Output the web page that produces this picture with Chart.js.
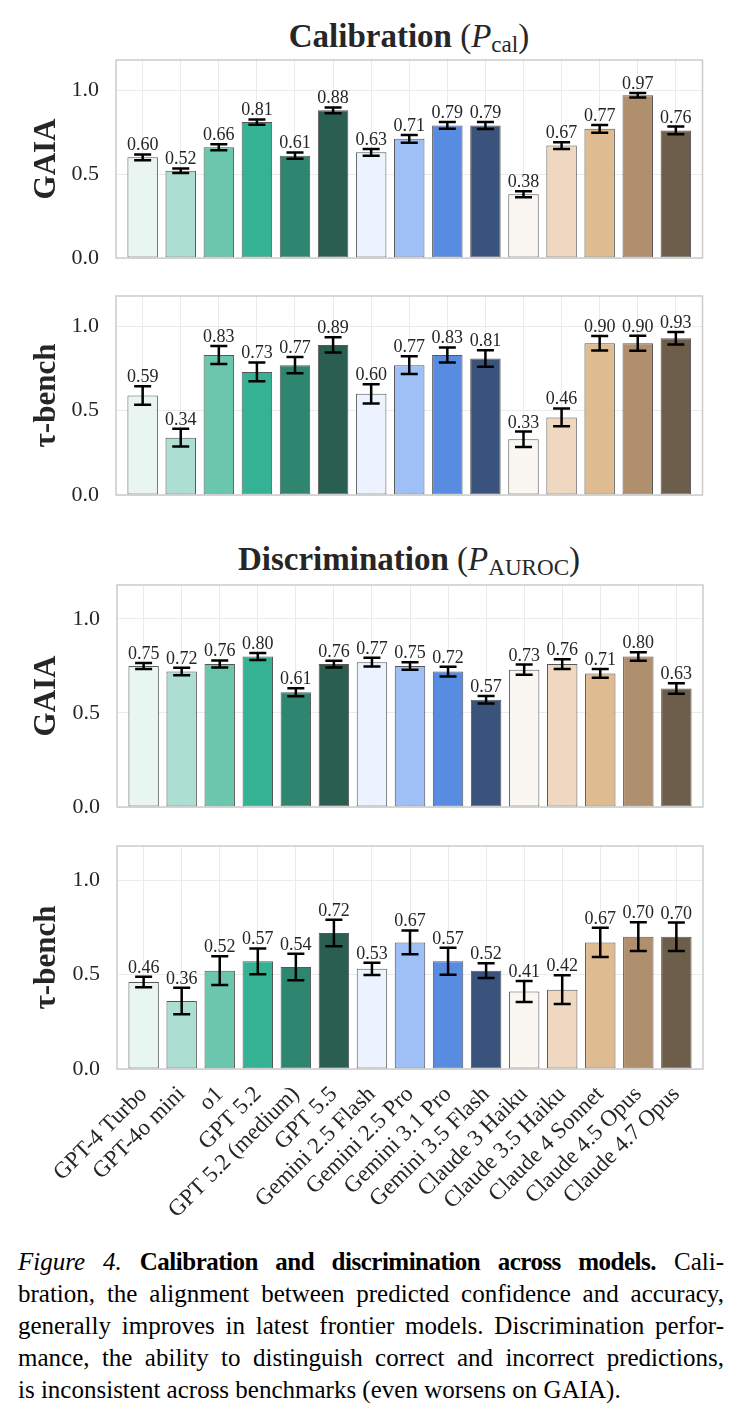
<!DOCTYPE html>
<html>
<head>
<meta charset="utf-8">
<script src="https://cdn.jsdelivr.net/npm/chart.js@4.4.0/dist/chart.umd.min.js"></script>
<style>
  body { margin: 0; background: #fff; width: 739px; height: 1416px; position: relative; overflow: hidden;
         font-family: "Liberation Serif", serif; color: #262626; }
  .panel { position: absolute; left: 0; }
  .title { position: absolute; left: 0; width: 818px; text-align: center; font-size: 33px; line-height: 33px;
           white-space: nowrap; color: #262626; }
  .title b { font-weight: bold; }
  .title sub { font-size: 0.7em; vertical-align: -0.22em; }
  #caption { position: absolute; left: 18px; width: 706px; top: 1246px; font-size: 25px; line-height: 32px; color: #000; }
  #caption div { text-align: justify; text-align-last: justify; white-space: nowrap; }
  #caption div.last { text-align-last: left; }
  #caption b { letter-spacing: -0.5px; }
</style>
</head>
<body>

<div class="title" style="top:20px"><b>Calibration</b> (<i>P</i><sub>cal</sub>)</div>
<div class="title" style="top:543px"><b>Discrimination</b> (<i>P</i><sub>AUROC</sub>)</div>

<div class="panel" id="p1"><canvas id="c1"></canvas></div>
<div class="panel" id="p2"><canvas id="c2"></canvas></div>
<div class="panel" id="p3"><canvas id="c3"></canvas></div>
<div class="panel" id="p4"><canvas id="c4"></canvas></div>

<div id="caption">
  <div><i>Figure 4.</i> <b>Calibration and discrimination across models.</b> Cali-</div>
  <div>bration, the alignment between predicted confidence and accuracy,</div>
  <div>generally improves in latest frontier models. Discrimination perfor-</div>
  <div>mance, the ability to distinguish correct and incorrect predictions,</div>
  <div class="last">is inconsistent across benchmarks (even worsens on GAIA).</div>
</div>

<script>
// modelos (eixo x)
const categories = ['GPT-4 Turbo', 'GPT-4o mini', 'o1', 'GPT 5.2', 'GPT 5.2 (medium)', 'GPT 5.5',
  'Gemini 2.5 Flash', 'Gemini 2.5 Pro', 'Gemini 3.1 Pro', 'Gemini 3.5 Flash',
  'Claude 3 Haiku', 'Claude 3.5 Haiku', 'Claude 4 Sonnet', 'Claude 4.5 Opus', 'Claude 4.7 Opus'];

const barColors = ['#e8f5f0', '#acdfd1', '#6bc6ae', '#34b293', '#2e8570', '#295e50',
  '#ecf3fe', '#9fc0f7', '#588ce0', '#3a537c',
  '#faf7f2', '#eed8c1', '#dfbb91', '#b08f6e', '#6d5e4b'];

// Calibration
const calGaia    = [0.60, 0.52, 0.66, 0.81, 0.61, 0.88, 0.63, 0.71, 0.79, 0.79, 0.38, 0.67, 0.77, 0.97, 0.76];
const calGaiaErr = [0.017, 0.014, 0.018, 0.016, 0.019, 0.017, 0.020, 0.023, 0.020, 0.021, 0.018, 0.020, 0.023, 0.013, 0.023];
const calTau     = [0.59, 0.34, 0.83, 0.73, 0.77, 0.89, 0.60, 0.77, 0.83, 0.81, 0.33, 0.46, 0.90, 0.90, 0.93];
const calTauErr  = [0.055, 0.053, 0.053, 0.056, 0.048, 0.045, 0.057, 0.053, 0.045, 0.049, 0.046, 0.053, 0.043, 0.044, 0.037];

// Discrimination
const disGaia    = [0.75, 0.72, 0.76, 0.80, 0.61, 0.76, 0.77, 0.75, 0.72, 0.57, 0.73, 0.76, 0.71, 0.80, 0.63];
const disGaiaErr = [0.016, 0.020, 0.019, 0.018, 0.021, 0.018, 0.023, 0.020, 0.026, 0.020, 0.027, 0.026, 0.023, 0.023, 0.028];
const disTau     = [0.46, 0.36, 0.52, 0.57, 0.54, 0.72, 0.53, 0.67, 0.57, 0.52, 0.41, 0.42, 0.67, 0.70, 0.70];
const disTauErr  = [0.028, 0.070, 0.076, 0.068, 0.070, 0.070, 0.032, 0.063, 0.071, 0.039, 0.055, 0.076, 0.077, 0.076, 0.075];

const yTicks = [0, 0.5, 1.0];
const yMax = 1.18;

const textColor = '#262626';
const serif = '"Liberation Serif", serif';

// barras de erro, rotulos de valor e moldura do grafico
const errPlugin = {
  id: 'errbars',
  afterDatasetsDraw(chart, args, opts) {
    const ctx = chart.ctx;
    const xs = chart.scales.x, ys = chart.scales.y;
    const vals = chart.data.datasets[0].data;
    ctx.save();
    vals.forEach((d, i) => {
      const x = xs.getPixelForValue(d.x);
      const e = opts.errors[i];
      const yHi = ys.getPixelForValue(d.y + e);
      const yLo = ys.getPixelForValue(d.y - e);
      ctx.strokeStyle = '#000';
      ctx.lineWidth = 2.5;
      ctx.beginPath();
      ctx.moveTo(x, yLo); ctx.lineTo(x, yHi);
      ctx.moveTo(x - 8.5, yHi); ctx.lineTo(x + 8.5, yHi);
      ctx.moveTo(x - 8.5, yLo); ctx.lineTo(x + 8.5, yLo);
      ctx.stroke();
      ctx.fillStyle = textColor;
      ctx.font = '18px ' + serif;
      ctx.textAlign = 'center';
      ctx.textBaseline = 'alphabetic';
      ctx.fillText(d.y.toFixed(2), x, yHi - 4);
    });
    const a = chart.chartArea;
    ctx.strokeStyle = '#cccccc';
    ctx.lineWidth = 1.5;
    ctx.strokeRect(a.left, a.top, a.right - a.left, a.bottom - a.top);
    ctx.restore();
  }
};

function makePanel(id, canvasId, values, errors, yTitle, box, showX) {
  const xAxisH = showX ? 160 : 0;
  const padTop = 6, padBottom = showX ? 0 : 16;
  const h = padTop + (box.bottom - box.top) + padBottom + xAxisH;
  const wrap = document.getElementById(id);
  wrap.style.top = (box.top - padTop) + 'px';
  const canvas = document.getElementById(canvasId);
  canvas.width = 739;
  canvas.height = h;

  new Chart(canvas, {
    type: 'bar',
    data: {
      datasets: [{
        data: values.map((v, i) => ({ x: i, y: v })),
        backgroundColor: barColors,
        borderColor: 'rgba(45,45,45,0.8)',
        borderWidth: 1,
        borderSkipped: false,
        barPercentage: 0.8,
        categoryPercentage: 1.0
      }]
    },
    options: {
      responsive: false,
      animation: false,
      devicePixelRatio: 1,
      layout: { padding: { top: padTop, bottom: padBottom, left: 0, right: 739 - box.right } },
      plugins: {
        legend: { display: false },
        tooltip: { enabled: false },
        errbars: { errors }
      },
      scales: {
        x: {
          type: 'linear',
          min: -0.7,
          max: 14.7,
          offset: false,
          afterBuildTicks: s => { s.ticks = categories.map((c, i) => ({ value: i })); },
          afterFit: s => { s.height = xAxisH; s.paddingLeft = 0; s.paddingRight = 0; },
          grid: { color: '#ebebeb', lineWidth: 1, drawTicks: false, offset: false },
          border: { display: false },
          ticks: {
            display: showX,
            autoSkip: false,
            maxRotation: 45,
            minRotation: 45,
            padding: 12,
            color: textColor,
            font: { family: serif, size: 23 },
            callback: (v, i) => categories[i]
          }
        },
        y: {
          min: 0,
          max: yMax,
          afterBuildTicks: s => { s.ticks = yTicks.map(v => ({ value: v })); },
          afterFit: s => { s.width = box.left; s.paddingTop = 0; s.paddingBottom = 0; },
          grid: { color: '#ebebeb', lineWidth: 1, drawTicks: false },
          border: { display: false },
          ticks: {
            padding: 17,
            color: textColor,
            font: { family: serif, size: 22 },
            callback: v => v.toFixed(1)
          },
          title: {
            display: true,
            text: yTitle,
            color: textColor,
            font: { family: serif, size: 31, weight: 'bold' },
            padding: { top: 28, bottom: 0 }
          }
        }
      }
    },
    plugins: [errPlugin]
  });
}

makePanel('p1', 'c1', calGaia, calGaiaErr, 'GAIA',    { left: 116, right: 702.5, top: 60,  bottom: 258 }, false);
makePanel('p2', 'c2', calTau,  calTauErr,  'τ-bench', { left: 116, right: 702.5, top: 296, bottom: 495 }, false);
makePanel('p3', 'c3', disGaia, disGaiaErr, 'GAIA',    { left: 117, right: 703,   top: 585, bottom: 807 }, false);
makePanel('p4', 'c4', disTau,  disTauErr,  'τ-bench', { left: 117, right: 703,   top: 846, bottom: 1069 }, true);
</script>
</body>
</html>
